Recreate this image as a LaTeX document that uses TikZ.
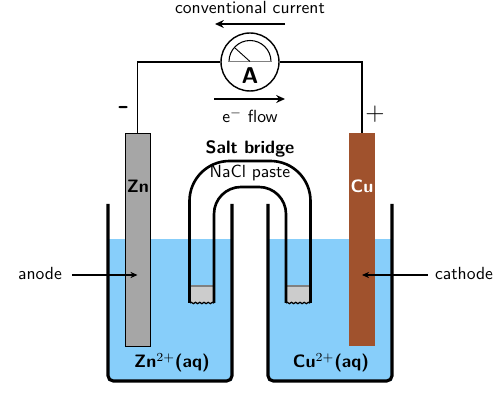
\documentclass[tikz,border=0pt]{standalone}
\usepackage{amsmath}
\usetikzlibrary{arrows.meta,decorations.pathmorphing,calc}
\renewcommand{\familydefault}{\sfdefault}
\definecolor{WaterBlue}{RGB}{135,206,250}
\definecolor{ZincGray}{RGB}{166,166,166}
\definecolor{CopperBrown}{RGB}{160,82,45}
\definecolor{FritGray}{RGB}{204,204,204}
\newlength{\WallWidth}
\newlength{\WireWidth}
\setlength{\WallWidth}{1.8pt}
\setlength{\WireWidth}{1.1pt}
\tikzset{
  beaker wall/.style={draw, line width=\WallWidth, rounded corners=3pt},
  bridge wall/.style={draw, line width=1.5pt},
  wire/.style={draw, line width=\WireWidth},
  flow arrow/.style={-{Stealth[length=5pt,width=4.5pt]}, line width=1.2pt},
  side arrow/.style={-{Stealth[length=4pt,width=3.5pt]}, line width=0.8pt},
  label text/.style={font=\sffamily\normalsize, inner sep=1pt},
  bold text/.style={font=\sffamily\bfseries\fontsize{10.2}{12}\selectfont, inner sep=1pt}
}

\begin{document}
\begin{tikzpicture}[x=0.02cm, y=-0.02cm]
  \useasboundingbox (0,0) rectangle (500,401);

  % solution
  \fill[WaterBlue] (108,239) rectangle (232,381);
  \fill[WaterBlue] (268,239) rectangle (392,381);

  % beakers
  \draw[beaker wall] (108,204) -- (108,381) -- (232,381) -- (232,204);
  \draw[beaker wall] (268,204) -- (268,381) -- (392,381) -- (392,204);

  % frits
  \fill[FritGray] (190,286) rectangle (214,303);
  \fill[FritGray] (286,286) rectangle (310,303);
  \draw[gray, line width=0.7pt] (190,286) -- (214,286);
  \draw[gray, line width=0.7pt] (286,286) -- (310,286);
  \draw[decorate, decoration={snake, amplitude=0.4pt, segment length=2.4pt}, line width=0.7pt] (190,303) -- (214,303);
  \draw[decorate, decoration={snake, amplitude=0.4pt, segment length=2.4pt}, line width=0.7pt] (286,303) -- (310,303);

  % salt bridge
  \draw[bridge wall] (189.5,303) -- (189.5,201) arc[start angle=180, end angle=270, radius=40] -- (270.5,161) arc[start angle=270, end angle=360, radius=40] -- (310.5,303);
  \draw[bridge wall] (214,303) -- (214,214) arc[start angle=180, end angle=270, radius=27] -- (259,187) arc[start angle=270, end angle=360, radius=27] -- (286,303);

  % electrodes
  \node[draw, fill=ZincGray, line width=0.5pt, minimum width=0.5cm, minimum height=4.26cm, inner sep=0pt] (zn) at (137.5,239.5) {};
  \node[fill=CopperBrown, minimum width=0.52cm, minimum height=4.26cm, inner sep=0pt] (cu) at (362,239.5) {};
  \node[bold text] at (138,186) {Zn};
  \node[bold text, text=white] at (362,186) {Cu};

  % ammeter
  \node[draw, circle, fill=white, line width=0.8pt, minimum size=1.16cm, inner sep=0pt] (meter) at (250,62) {};
  \draw[wire] (zn.north) |- (meter.west);
  \draw[wire] (cu.north) |- (meter.east);
  \draw[line width=0.6pt] (229,61.5) arc[start angle=180, end angle=360, radius=21];
  \draw[gray, line width=0.8pt] (228,61.5) -- (272,61.5);
  \draw[line width=0.5pt] (250,61.5) -- (235,48);
  \node[font=\sffamily\bfseries\fontsize{13}{15}\selectfont, inner sep=0pt] (ampere) at (250,76) {A};

  % flow
  \node[label text] (current) at (250,8) {conventional current};
  \draw[flow arrow] (285,24) -- (215,24);
  \draw[flow arrow] (214,99) -- (285,99);
  \node[label text] (eflow) at (250,116) {e$^{-}$ flow};
  \node[font=\sffamily\bfseries\LARGE, inner sep=0pt] (minus) at (124,110) {-};
  \node[font=\sffamily\Large, inner sep=0pt] (plus) at (375,114) {+};

  % salt bridge text
  \node[bold text] (bridge) at (250,149) {Salt bridge};
  \node[label text] (paste) at (250,173) {NaCl paste};

  % side labels
  \node[label text] (anode) at (40,274) {anode};
  \node[label text] (cathode) at (464,274) {cathode};
  \draw[side arrow] (anode.east) ++(8,1) -- (zn.center |- 0,275);
  \draw[side arrow] (cathode.west) ++(-5,1) -- (cu.center |- 0,275);

  \node[bold text] (zinc) at (172,363) {Zn$^{2+}$(aq)};
  \node[bold text] (copper) at (331,363) {Cu$^{2+}$(aq)};
\end{tikzpicture}
\end{document}
